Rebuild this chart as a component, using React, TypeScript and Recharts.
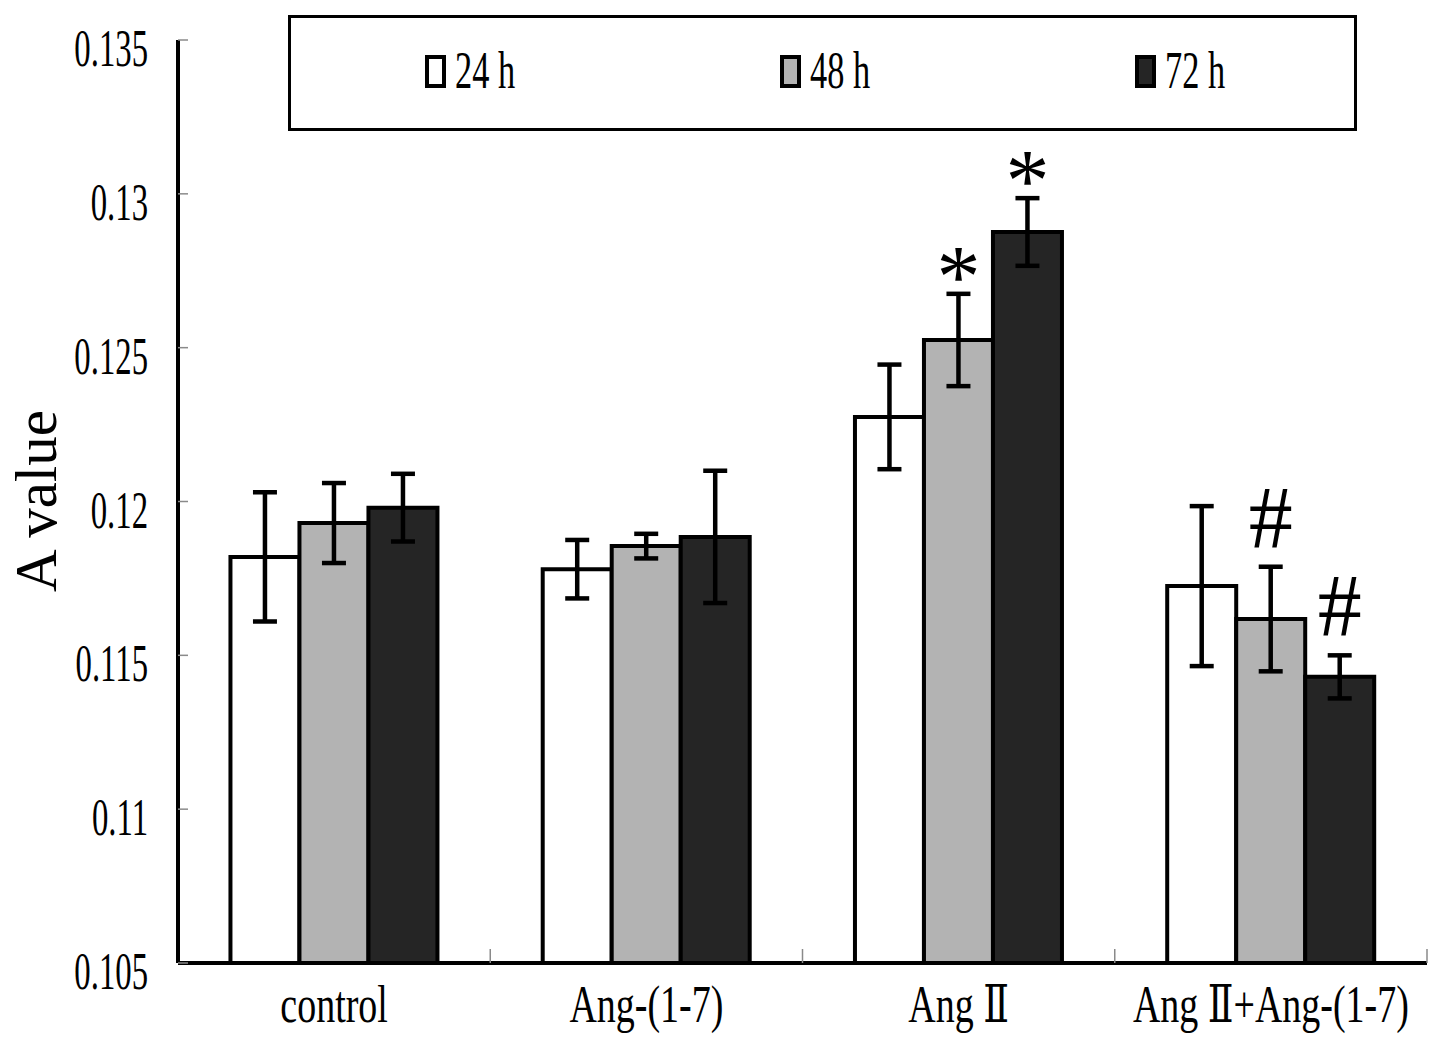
import React from 'react';
import { BarChart, Bar, XAxis, YAxis, ErrorBar, LabelList, Legend, Label } from 'recharts';

const categories = ['control', 'Ang-(1-7)', 'Ang Ⅱ', 'Ang Ⅱ+Ang-(1-7)'];
const values24 = [0.1182, 0.1178, 0.12275, 0.11725];
const values48 = [0.1193, 0.11855, 0.12525, 0.11618];
const values72 = [0.1198, 0.11885, 0.12876, 0.1143];
const err24 = [0.0021, 0.00095, 0.0017, 0.0026];
const err48 = [0.0013, 0.0004, 0.0015, 0.0017];
const err72 = [0.0011, 0.00215, 0.0011, 0.0007];
const marks48 = ['', '', '*', '#'];
const marks72 = ['', '', '*', '#'];
const yTicks = [0.105, 0.11, 0.115, 0.12, 0.125, 0.13, 0.135];
const yTickLabels = ['0.105', '0.11', '0.115', '0.12', '0.125', '0.13', '0.135'];
const seriesNames = ['24 h', '48 h', '72 h'];
const seriesColors = ['#ffffff', '#b3b3b3', '#252525'];
const yAxisTitle = 'A value';

const data = categories.map((name, i) => ({
  name,
  v24: values24[i],
  v48: values48[i],
  v72: values72[i],
  e24: err24[i],
  e48: err48[i],
  e72: err72[i],
  m48: marks48[i],
  m72: marks72[i],
}));

const FONT = '"Liberation Serif", "DejaVu Serif", serif';

const YTick = (props: any) => {
  const { x, y, payload } = props;
  const idx = yTicks.indexOf(payload.value);
  const label = idx >= 0 ? yTickLabels[idx] : String(payload.value);
  return (
    <g>
      <line x1={x} x2={x + 10} y1={y} y2={y} stroke="#8a8a8a" strokeWidth={1.5} />
      <text
        transform={`translate(${x - 30},${y + 26}) scale(0.63,1)`}
        textAnchor="end"
        fontSize={52}
        fontFamily={FONT}
        fill="#000"
      >
        {label}
      </text>
    </g>
  );
};

const XTick = (props: any) => {
  const { x, y, payload } = props;
  const half = payload && typeof payload.offset === 'number' && payload.offset > 0 ? payload.offset : 156.25;
  return (
    <g>
      <line x1={x + half} x2={x + half} y1={y} y2={y - 14} stroke="#8a8a8a" strokeWidth={1.5} />
      <text
        transform={`translate(${x},${y + 59}) scale(0.73,1)`}
        textAnchor="middle"
        fontSize={52}
        fontFamily={FONT}
        fill="#000"
      >
        {payload.value}
      </text>
    </g>
  );
};

const YTitle = () => (
  <text
    transform="translate(48,493) rotate(-90)"
    textAnchor="middle"
    fontSize={59}
    fontFamily={FONT}
    fill="#000"
  >
    {yAxisTitle}
  </text>
);

const LegendBox = () => (
  <svg width={1069} height={116} style={{ display: 'block' }}>
    <rect x={1.5} y={1.5} width={1066} height={113} fill="#fff" stroke="#000" strokeWidth={3} />
    {seriesNames.map((n, i) => (
      <g key={n}>
        <rect x={139 + i * 355} y={42} width={17} height={29} fill={seriesColors[i]} stroke="#000" strokeWidth={4} />
        <text
          transform={`translate(${167 + i * 355},73) scale(0.66,1)`}
          fontSize={52}
          fontFamily={FONT}
          fill="#000"
        >
          {n}
        </text>
      </g>
    ))}
  </svg>
);

const makeMark = (vals: number[], errs: number[], marks: string[]) => (props: any) => {
  const vb = props.viewBox || props;
  const idx = props.index;
  if (idx === undefined || !marks[idx]) return null;
  const m = marks[idx];
  const px = vb.height / (vals[idx] - yTicks[0]);
  const capY = vb.y - errs[idx] * px;
  const cx = vb.x + vb.width / 2;
  if (m === '*') {
    return (
      <text x={cx} y={capY + 12} fontSize={88} textAnchor="middle" fontFamily={FONT} fill="#000">
        *
      </text>
    );
  }
  return (
    <text x={cx} y={capY - 20} fontSize={88} textAnchor="middle" fontFamily={FONT} fill="#000">
      #
    </text>
  );
};

export default function App() {
  return (
    <div style={{ width: 1425, height: 1031, background: '#fff' }}>
      <BarChart
        width={1425}
        height={1031}
        data={data}
        margin={{ top: 32, right: 6, bottom: 0, left: 0 }}
        barCategoryGap="16.8%"
        barGap={0}
      >
        <XAxis
          dataKey="name"
          height={76}
          axisLine={{ stroke: '#000', strokeWidth: 4 }}
          tickLine={false}
          tickSize={0}
          tickMargin={0}
          tick={<XTick />}
          interval={0}
        />
        <YAxis
          type="number"
          domain={[0.105, 0.135]}
          ticks={yTicks}
          width={170}
          axisLine={{ stroke: '#000', strokeWidth: 4 }}
          tickLine={false}
          tickSize={0}
          tickMargin={0}
          tick={<YTick />}
          interval={0}
          allowDataOverflow
        >
          <Label content={<YTitle />} />
        </YAxis>
        <Legend
          verticalAlign="middle"
          align="center"
          layout="horizontal"
          content={<LegendBox />}
          wrapperStyle={{ position: 'absolute', left: 280, top: 7, width: 1069, height: 116 }}
        />
        <Bar dataKey="v24" name={seriesNames[0]} fill={seriesColors[0]} stroke="#000" strokeWidth={4} isAnimationActive={false}>
          <ErrorBar dataKey="e24" width={12} strokeWidth={4.5} stroke="#000" direction="y" />
        </Bar>
        <Bar dataKey="v48" name={seriesNames[1]} fill={seriesColors[1]} stroke="#000" strokeWidth={4} isAnimationActive={false}>
          <ErrorBar dataKey="e48" width={12} strokeWidth={4.5} stroke="#000" direction="y" />
          <LabelList dataKey="m48" content={makeMark(values48, err48, marks48)} />
        </Bar>
        <Bar dataKey="v72" name={seriesNames[2]} fill={seriesColors[2]} stroke="#000" strokeWidth={4} isAnimationActive={false}>
          <ErrorBar dataKey="e72" width={12} strokeWidth={4.5} stroke="#000" direction="y" />
          <LabelList dataKey="m72" content={makeMark(values72, err72, marks72)} />
        </Bar>
      </BarChart>
    </div>
  );
}
